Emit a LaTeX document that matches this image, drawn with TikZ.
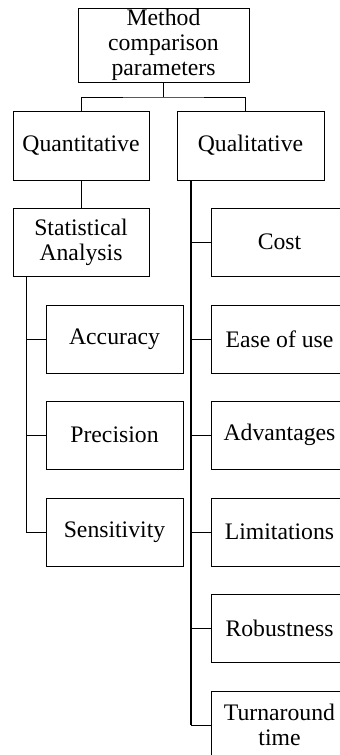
\documentclass[tikz,border=0pt]{standalone}
\usepackage{fontspec}
\setmainfont{Liberation Serif}
\begin{document}
\begin{tikzpicture}[x=1pt,y=-1pt,
  box/.style={draw, line width=0.8pt, inner sep=0pt, align=center,
    font=\fontsize{23.7}{25}\selectfont, minimum width=137pt, minimum height=68pt},
  link/.style={line width=0.8pt},
  trunk/.style={line width=1.3pt}]
\useasboundingbox (0,0) rectangle (340,755);
\clip (0,0) rectangle (340,755);
\node[box, minimum width=171pt, minimum height=74pt] (top) at (163.5,45) {Method\\comparison\\parameters};
\node[box, minimum width=136pt, minimum height=69pt] (quant) at (81,145.5) {Quantitative};
\node[box, minimum width=147pt, minimum height=69pt] (qual) at (250.5,145.5) {Qualitative};
\node[box, minimum width=136pt] (sa) at (81,242) {Statistical\\Analysis};
\node[box] (acc) at (114.5,339) {Accuracy};
\node[box] (prec) at (114.5,435) {Precision};
\node[box] (sens) at (114.5,532) {Sensitivity};
\node[box] (cost) at (279.5,242) {Cost};
\node[box] (ease) at (279.5,339) {Ease of use};
\node[box] (adv) at (279.5,435) {Advantages};
\node[box] (lim) at (279.5,532) {Limitations};
\node[box] (rob) at (279.5,628.5) {Robustness};
\node[box] (turn) at (279.5,725) {Turnaround\\time};
\coordinate (j1) at (163.5,97);
\coordinate (qin) at (245,111);
\coordinate (sa1) at (26,276);
\coordinate (q1) at (191,180);
\draw[link] (top.south) -- (j1);
\draw[link] (quant.north) |- (j1) -| (qin);
\draw[link] (quant.south) -- (sa.north);
\draw[link] (sa1) |- (acc.west);
\draw[link] (sa1) |- (prec.west);
\draw[link] (sa1) |- (sens.west);
\draw[trunk] (q1) -- (q1 |- turn.west);
\draw[link] (q1) |- (cost.west);
\draw[link] (q1) |- (ease.west);
\draw[link] (q1) |- (adv.west);
\draw[link] (q1) |- (lim.west);
\draw[link] (q1) |- (rob.west);
\draw[link] (q1) |- (turn.west);
\end{tikzpicture}
\end{document}
